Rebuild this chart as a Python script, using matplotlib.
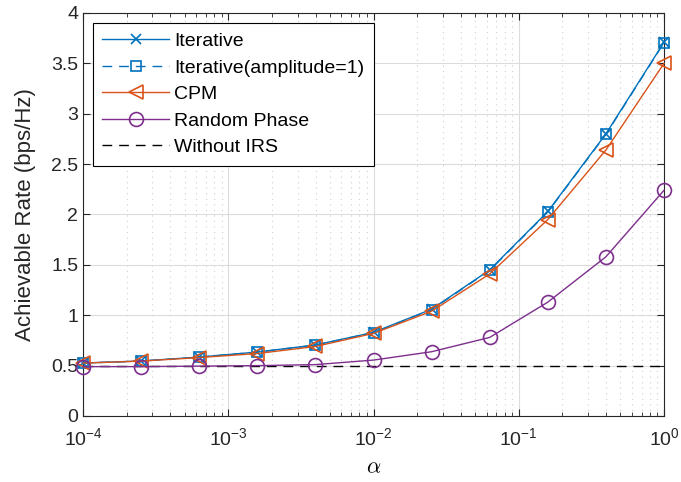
import numpy as np
import matplotlib
matplotlib.use("Agg")
import matplotlib.pyplot as plt
from matplotlib.ticker import LogLocator, FixedLocator, NullFormatter

plt.rcParams['font.family'] = ['Liberation Sans', 'DejaVu Sans']

alpha = [1e-4, 2.512e-4, 6.31e-4, 1.585e-3, 3.981e-3, 1e-2, 2.512e-2, 6.31e-2, 0.1585, 0.3981, 1.0]
iterative = [0.526, 0.546, 0.585, 0.635, 0.705, 0.83, 1.06, 1.45, 2.03, 2.80, 3.71]
iterative_amp1 = [0.525, 0.545, 0.584, 0.634, 0.703, 0.828, 1.055, 1.445, 2.025, 2.795, 3.705]
cpm = [0.525, 0.545, 0.58, 0.62, 0.69, 0.82, 1.04, 1.41, 1.95, 2.64, 3.50]
random_phase = [0.49, 0.49, 0.495, 0.50, 0.51, 0.555, 0.638, 0.78, 1.13, 1.58, 2.24]
without_irs = [0.5] * len(alpha)

blue = '#0072BD'
orange = '#D95319'
purple = '#7E2F8E'

fig = plt.figure(figsize=(6.81, 4.82), dpi=100)
ax = fig.add_axes([83/681, 66/482, 581/681, 403/482])

kw = dict(clip_on=False, zorder=3)
ax.plot(alpha, iterative, '-', color=blue, lw=1.0, marker='x', ms=7, mew=1.2, label='Iterative', **kw)
ax.plot(alpha, iterative_amp1, '--', color=blue, lw=1.0, marker='s', ms=7.5, mfc='none', mew=1.2,
        dashes=(7, 5), label='Iterative(amplitude=1)', **kw)
ax.plot(alpha, cpm, '-', color=orange, lw=1.0, marker='<', ms=10.5, mfc='none', mew=1.2, label='CPM', **kw)
ax.plot(alpha, random_phase, '-', color=purple, lw=1.0, marker='o', ms=10, mfc='none', mew=1.2,
        label='Random Phase', **kw)
ax.plot(alpha, without_irs, '--', color='black', lw=1.0, dashes=(7, 5), label='Without IRS')

ax.set_xscale('log')
ax.set_xlim(1e-4, 1)
ax.set_ylim(0, 4)
ax.set_yticks([0, 0.5, 1, 1.5, 2, 2.5, 3, 3.5, 4])
ax.set_yticklabels(['0', '0.5', '1', '1.5', '2', '2.5', '3', '3.5', '4'])
ax.xaxis.set_major_locator(FixedLocator([1e-4, 1e-3, 1e-2, 1e-1, 1]))
ax.xaxis.set_minor_locator(LogLocator(base=10, subs=np.arange(2, 10), numticks=20))
ax.xaxis.set_minor_formatter(NullFormatter())

ax.grid(True, which='major', color='#dcdcdc', lw=0.8)
ax.grid(True, which='minor', axis='x', color='#cfcfcf', lw=0.8, linestyle=(0, (1, 4)))
ax.set_axisbelow(True)

ax.tick_params(which='both', direction='in', top=True, right=True, labelsize=14, colors='#262626')
ax.tick_params(which='major', length=5, width=0.8)
ax.tick_params(which='minor', length=3, width=0.6)
ax.tick_params(axis='x', pad=8)
for s in ax.spines.values():
    s.set_color('#262626')
    s.set_linewidth(0.8)

ax.set_xlabel(r'$\alpha$', fontsize=16, math_fontfamily='cm', labelpad=6)
ax.set_ylabel('Achievable Rate (bps/Hz)', fontsize=16, color='#262626', labelpad=11)

leg = ax.legend(loc='upper left', fontsize=14, fancybox=False, edgecolor='black',
                framealpha=1, borderaxespad=0.5, handlelength=3.4, labelspacing=0.46,
                borderpad=0.5, handletextpad=0.3)
leg.get_frame().set_linewidth(0.8)

fig.savefig('out.png', dpi=100)
